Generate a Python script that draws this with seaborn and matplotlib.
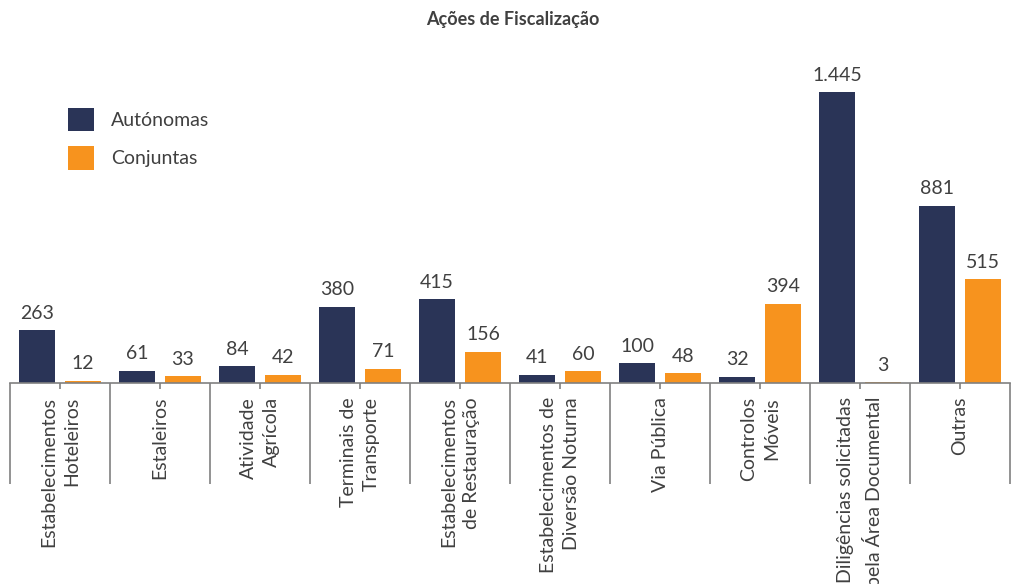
import matplotlib
matplotlib.use("Agg")
import matplotlib.pyplot as plt
import numpy as np
import pandas as pd
import seaborn as sns

# chart data
categories = ["Estabelecimentos\nHoteleiros", "Estaleiros", "Atividade\nAgrícola",
              "Terminais de\nTransporte", "Estabelecimentos\nde Restauração",
              "Estabelecimentos de\nDiversão Noturna", "Via Pública",
              "Controlos\nMóveis", "Diligências solicitadas\npela Área Documental",
              "Outras"]
autonomas = [263, 61, 84, 380, 415, 41, 100, 32, 1445, 881]
conjuntas = [12, 33, 42, 71, 156, 60, 48, 394, 3, 515]
series = ["Autónomas", "Conjuntas"]
colors = ["#2a3457", "#f7931e"]

df = pd.DataFrame({
    "cat": categories * 2,
    "valor": autonomas + conjuntas,
    "tipo": [series[0]] * len(categories) + [series[1]] * len(categories),
})

sns.set_style("white")
plt.rcParams["font.family"] = ["Lato", "DejaVu Sans"]
text_col = "#404040"

fig = plt.figure(figsize=(10.12, 5.84), dpi=100)
ax = fig.add_axes([10 / 1012, 201 / 584, 1000 / 1012, 322 / 584])

sns.barplot(data=df, x="cat", y="valor", hue="tipo", palette=colors,
            width=0.92, gap=0.2, ax=ax, saturation=1, legend=True,
            linewidth=0)

ax.set_xlim(-0.5, len(categories) - 0.5)
ax.set_ylim(0, 1600)

# value labels with dot thousands separator
for cont in ax.containers:
    labels = [f"{int(v):,}".replace(",", ".") for v in cont.datavalues]
    ax.bar_label(cont, labels=labels, padding=6, fontsize=14, color=text_col)

# axes styling: only bottom spine
for s in ["top", "right", "left"]:
    ax.spines[s].set_visible(False)
ax.spines["bottom"].set_color("#808080")
ax.spines["bottom"].set_linewidth(1.2)
ax.set_yticks([])
ax.set_xlabel("")
ax.set_ylabel("")

# long separators between categories, short ticks with labels at centres
ax.set_xticks(np.arange(-0.5, len(categories), 1.0))
ax.set_xticklabels([])
ax.tick_params(axis="x", which="major", length=73, width=1.2, color="#808080",
               direction="out", bottom=True)
ax.set_xticks(np.arange(len(categories)), minor=True)
ax.set_xticklabels(categories, minor=True, rotation=90, fontsize=14,
                   color=text_col, va="top", ha="center")
ax.tick_params(axis="x", which="minor", length=4, width=1.2, color="#808080",
               pad=6, bottom=True)
for lbl in ax.get_xticklabels(minor=True):
    lbl.set_multialignment("right")
    lbl.set_linespacing(1.45)

# legend
handles, _ = ax.get_legend_handles_labels()
ax.legend(handles, series, loc="upper left", bbox_to_anchor=(0.058, 0.855),
          frameon=False, fontsize=14, handlelength=1.35, handleheight=1.5,
          labelspacing=0.75, handletextpad=0.85, labelcolor=text_col,
          borderaxespad=0, borderpad=0)

fig.text(0.507, 0.966, "Ações de Fiscalização", ha="center", va="center",
         fontsize=13, fontweight="bold", color=text_col)

fig.savefig("out.png", dpi=100)
